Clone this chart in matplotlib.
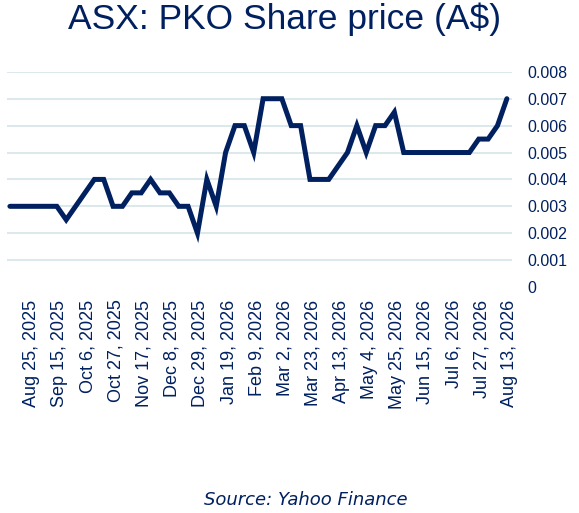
import matplotlib.pyplot as plt
import matplotlib.transforms as mtransforms
from matplotlib.ticker import FixedLocator

# weekly closes, Aug 11 2025 -> Aug 10 2026, plus Aug 13 2026
dates = ["Aug 11, 2025", "Aug 18, 2025", "Aug 25, 2025", "Sep 1, 2025", "Sep 8, 2025",
         "Sep 15, 2025", "Sep 22, 2025", "Sep 29, 2025", "Oct 6, 2025", "Oct 13, 2025",
         "Oct 20, 2025", "Oct 27, 2025", "Nov 3, 2025", "Nov 10, 2025", "Nov 17, 2025",
         "Nov 24, 2025", "Dec 1, 2025", "Dec 8, 2025", "Dec 15, 2025", "Dec 22, 2025",
         "Dec 29, 2025", "Jan 5, 2026", "Jan 12, 2026", "Jan 19, 2026", "Jan 26, 2026",
         "Feb 2, 2026", "Feb 9, 2026", "Feb 16, 2026", "Feb 23, 2026", "Mar 2, 2026",
         "Mar 9, 2026", "Mar 16, 2026", "Mar 23, 2026", "Mar 30, 2026", "Apr 6, 2026",
         "Apr 13, 2026", "Apr 20, 2026", "Apr 27, 2026", "May 4, 2026", "May 11, 2026",
         "May 18, 2026", "May 25, 2026", "Jun 1, 2026", "Jun 8, 2026", "Jun 15, 2026",
         "Jun 22, 2026", "Jun 29, 2026", "Jul 6, 2026", "Jul 13, 2026", "Jul 20, 2026",
         "Jul 27, 2026", "Aug 3, 2026", "Aug 10, 2026", "Aug 13, 2026"]

price = [0.003, 0.003, 0.003, 0.003, 0.003, 0.003, 0.0025, 0.003, 0.0035, 0.004,
         0.004, 0.003, 0.003, 0.0035, 0.0035, 0.004, 0.0035, 0.0035, 0.003, 0.003,
         0.002, 0.004, 0.003, 0.005, 0.006, 0.006, 0.005, 0.007, 0.007, 0.007,
         0.006, 0.006, 0.004, 0.004, 0.004, 0.0045, 0.005, 0.006, 0.005, 0.006,
         0.006, 0.0065, 0.005, 0.005, 0.005, 0.005, 0.005, 0.005, 0.005, 0.005,
         0.0055, 0.0055, 0.006, 0.007]

yticks = [0, 0.001, 0.002, 0.003, 0.004, 0.005, 0.006, 0.007, 0.008]
ytick_labels = ["0", "0.001", "0.002", "0.003", "0.004", "0.005", "0.006", "0.007", "0.008"]

navy = "#002060"
grid_col = "#dce9ec"

plt.rcParams['font.family'] = ['Liberation Sans', 'DejaVu Sans']

fig = plt.figure(figsize=(5.79, 5.13), dpi=100)
ax = fig.add_axes([0.012, 0.4405, 0.872, 0.4195])

x = list(range(len(price)))
ax.plot(x, price, color=navy, lw=3.6, solid_joinstyle='miter', solid_capstyle='round', zorder=3)

ax.set_ylim(0, 0.008)
ax.set_xlim(-0.32, len(price) - 1 + 0.53)

ax.yaxis.tick_right()
ax.set_yticks(yticks)
ax.set_yticklabels(ytick_labels)
for y in yticks[1:]:
    ax.axhline(y, color=grid_col, lw=1.4, zorder=1)

tick_idx = list(range(2, len(dates), 3))
ax.xaxis.set_major_locator(FixedLocator(tick_idx))
ax.set_xticklabels([dates[i] for i in tick_idx], rotation=90)

ax.tick_params(axis='y', length=0, pad=11, labelsize=11.5, labelcolor=navy)
ax.tick_params(axis='x', length=0, pad=9, labelsize=13, labelcolor=navy)
for s in ax.spines.values():
    s.set_visible(False)

# nudge date labels a few px to the right
shift = mtransforms.ScaledTranslation(3 / 100, 0, fig.dpi_scale_trans)
for lbl in ax.get_xticklabels():
    lbl.set_transform(lbl.get_transform() + shift)

fig.text(0.492, 0.962, "ASX: PKO Share price (A$)", ha='center', va='center',
         fontsize=25.5, color=navy)
fig.text(0.528, 0.025, "Source: Yahoo Finance", ha='center', va='center',
         fontsize=13, color=navy, style='italic', family='DejaVu Sans')

fig.savefig("out.png", dpi=100)
